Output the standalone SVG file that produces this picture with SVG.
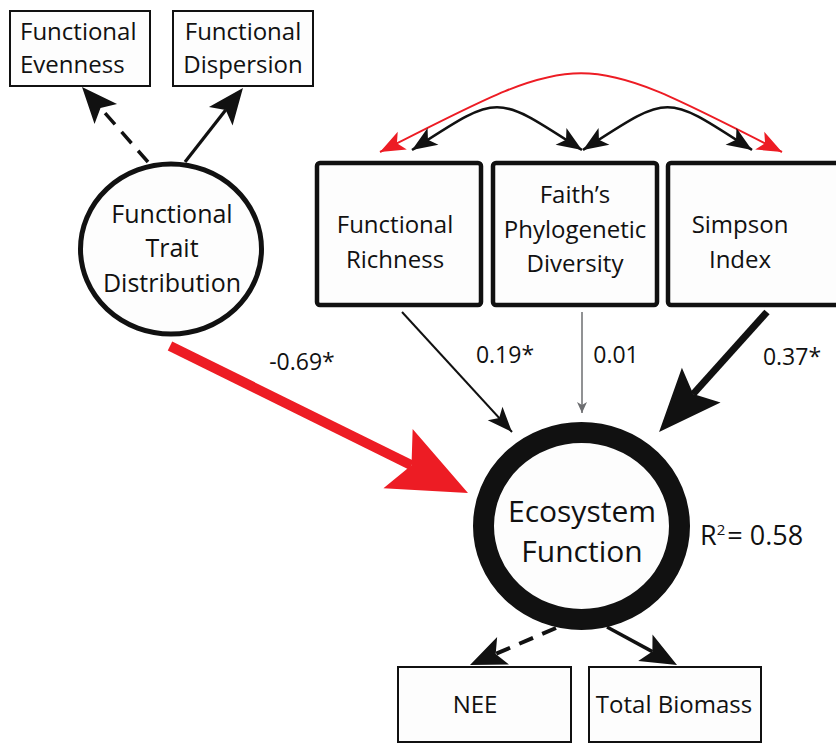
<svg xmlns="http://www.w3.org/2000/svg" width="836" height="744" viewBox="0 0 836 744">
<style>
text{font-family:"Open Sans","Noto Sans","Liberation Sans",sans-serif;fill:#111;text-anchor:middle}
.box{fill:#fdfdfd;stroke:#111;stroke-width:2}
.bbox{fill:#fdfdfd;stroke:#111;stroke-width:4.5}
.t24{font-size:24px}
.lab{font-size:23px}
.ln{fill:none;stroke:#111}
</style>
<defs>
<marker id="hS" markerUnits="userSpaceOnUse" orient="auto-start-reverse" refX="25" refY="0" markerWidth="60" markerHeight="60" overflow="visible"><path d="M0,-10 L25,0 L0,10 L6,0 Z" fill="#111"/></marker>
<marker id="hSR" markerUnits="userSpaceOnUse" orient="auto-start-reverse" refX="25" refY="0" markerWidth="60" markerHeight="60" overflow="visible"><path d="M0,-10 L25,0 L0,10 L6,0 Z" fill="#ed1c24"/></marker>
<marker id="hG" markerUnits="userSpaceOnUse" orient="auto" refX="11" refY="0" markerWidth="30" markerHeight="30" overflow="visible"><path d="M0,-5 L11,0 L0,5 L3,0 Z" fill="#6d6e71"/></marker>
<marker id="hM" markerUnits="userSpaceOnUse" orient="auto" refX="8" refY="0" markerWidth="80" markerHeight="80" overflow="visible"><path d="M0,-15 L36,0 L0,15 L8,0 Z" fill="#111"/></marker>
<marker id="hL" markerUnits="userSpaceOnUse" orient="auto" refX="12" refY="0" markerWidth="130" markerHeight="130" overflow="visible"><path d="M0,-26 L63,0 L0,26 L12,0 Z" fill="#111"/></marker>
<marker id="hR" markerUnits="userSpaceOnUse" orient="auto" refX="15" refY="0" markerWidth="160" markerHeight="160" overflow="visible"><path d="M0,-33 L78,0 L0,33 L15,0 Z" fill="#ed1c24"/></marker>
</defs>
<rect width="836" height="744" fill="#ffffff"/>

<g id="functional-evenness">
<rect class="box" x="10" y="11" width="140" height="75"/>
<text class="t24" x="20" y="40" style="text-anchor:start">Functional</text>
<text class="t24" x="20" y="73" style="text-anchor:start">Evenness</text>
</g>
<g id="functional-dispersion">
<rect class="box" x="173" y="11" width="140" height="75"/>
<text class="t24" x="243" y="40">Functional</text>
<text class="t24" x="243" y="73">Dispersion</text>
</g>
<g id="functional-trait-distribution">
<ellipse cx="171" cy="249" rx="90.5" ry="85" fill="#fdfdfd" stroke="#111" stroke-width="5"/>
<text x="172" y="223" font-size="25">Functional</text>
<text x="172" y="257" font-size="25">Trait</text>
<text x="172" y="292" font-size="25">Distribution</text>
</g>
<g id="functional-richness">
<rect class="bbox" x="317" y="163" width="164" height="142" rx="3"/>
<text class="t24" x="395" y="233">Functional</text>
<text class="t24" x="395" y="268">Richness</text>
</g>
<g id="faiths-phylogenetic-diversity">
<rect class="bbox" x="493" y="163" width="164" height="142" rx="3"/>
<text class="t24" x="575" y="203">Faith’s</text>
<text class="t24" x="575" y="238">Phylogenetic</text>
<text class="t24" x="575" y="272">Diversity</text>
</g>
<g id="simpson-index">
<rect class="bbox" x="668" y="163" width="180" height="142" rx="3"/>
<text class="t24" x="740" y="233">Simpson</text>
<text class="t24" x="740" y="268">Index</text>
</g>
<g id="ecosystem-function">
<ellipse cx="581.5" cy="526" rx="98" ry="93.5" fill="#fdfdfd" stroke="#111" stroke-width="21"/>
<text x="582" y="522" font-size="30">Ecosystem</text>
<text x="582" y="562" font-size="30">Function</text>
<text x="700" y="545" font-size="27" style="text-anchor:start">R<tspan font-size="15" dy="-10">2</tspan><tspan dy="10" dx="2">= 0.58</tspan></text>
</g>
<g id="nee">
<rect class="box" x="398" y="667" width="173" height="75"/>
<text class="t24" x="475" y="713">NEE</text>
</g>
<g id="total-biomass">
<rect class="box" x="589" y="667" width="172" height="75"/>
<text class="t24" x="674" y="713">Total Biomass</text>
</g>

<g id="connectors">
<path class="ln" d="M380,152 C586,47 576,47 782,152" stroke="#ed1c24" stroke-width="2" style="stroke:#ed1c24" marker-start="url(#hSR)" marker-end="url(#hSR)"/>
<path class="ln" d="M412,150 C500,93 494,93 582,150" stroke-width="2.6" marker-start="url(#hS)" marker-end="url(#hS)"/>
<path class="ln" d="M583,150 C671,93 664,93 752,150" stroke-width="2.6" marker-start="url(#hS)" marker-end="url(#hS)"/>
<line class="ln" x1="185" y1="162" x2="225.7" y2="110" stroke-width="3.2" marker-end="url(#hM)"/>
<line class="ln" x1="148" y1="162" x2="100.5" y2="108" stroke-width="3.5" stroke-dasharray="15,10" marker-end="url(#hM)"/>
<line class="ln" x1="170" y1="346" x2="411.5" y2="465.2" stroke-width="10" style="stroke:#ed1c24" marker-end="url(#hR)"/>
<line class="ln" x1="402" y1="312" x2="512" y2="432" stroke-width="2" marker-end="url(#hS)"/>
<line class="ln" x1="582" y1="312" x2="582" y2="413" stroke-width="1.5" style="stroke:#6d6e71" marker-end="url(#hG)"/>
<line class="ln" x1="767" y1="312" x2="693.2" y2="394" stroke-width="7" marker-end="url(#hL)"/>
<line class="ln" x1="556" y1="628" x2="495.7" y2="653.9" stroke-width="4" stroke-dasharray="15,10" marker-end="url(#hM)"/>
<line class="ln" x1="607" y1="627" x2="652.4" y2="651.6" stroke-width="3.5" marker-end="url(#hM)"/>
<text class="lab" x="302" y="370">-0.69*</text>
<text class="lab" x="505" y="363">0.19*</text>
<text class="lab" x="616" y="363">0.01</text>
<text class="lab" x="792" y="365">0.37*</text>
</g>
</svg>
